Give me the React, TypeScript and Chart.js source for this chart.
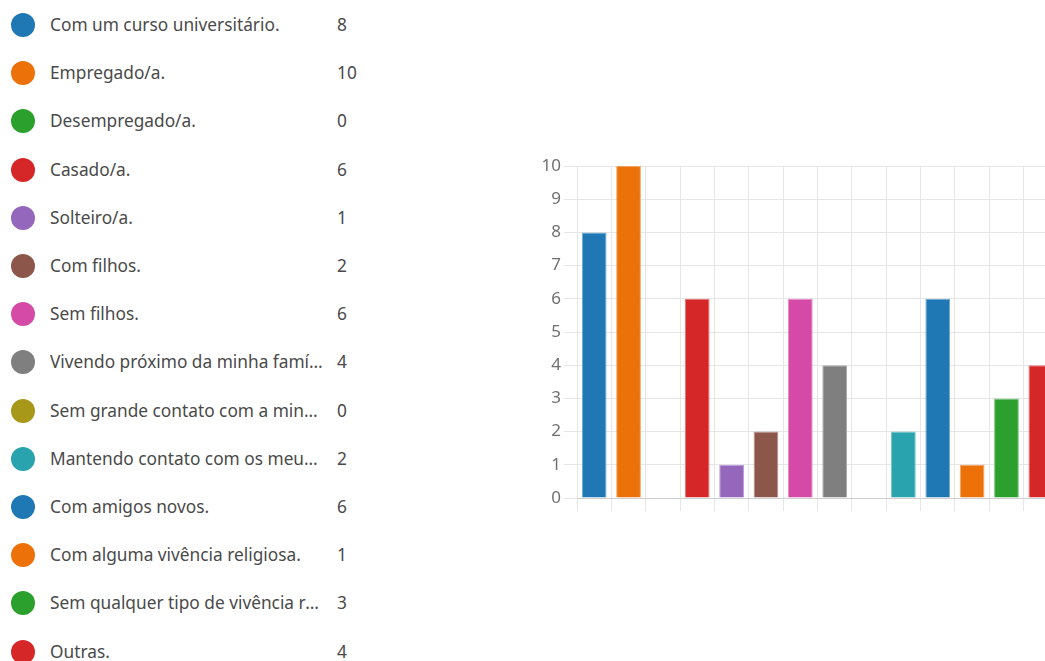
import React, { useEffect, useRef } from "react";
import { Chart, registerables } from "chart.js";

Chart.register(...registerables);

const categories = [
  "Com um curso universitário.",
  "Empregado/a.",
  "Desempregado/a.",
  "Casado/a.",
  "Solteiro/a.",
  "Com filhos.",
  "Sem filhos.",
  "Vivendo próximo da minha família.",
  "Sem grande contato com a minha família.",
  "Mantendo contato com os meus amigos antigos.",
  "Com amigos novos.",
  "Com alguma vivência religiosa.",
  "Sem qualquer tipo de vivência religiosa.",
  "Outras.",
];

const counts = [8, 10, 0, 6, 1, 2, 6, 4, 0, 2, 6, 1, 3, 4];

const colors = [
  "#1f77b4",
  "#eb7108",
  "#2ca02c",
  "#d62728",
  "#9467bd",
  "#8c564b",
  "#d44aa6",
  "#7f7f7f",
  "#a8981a",
  "#29a3ae",
  "#1f77b4",
  "#eb7108",
  "#2ca02c",
  "#d62728",
];

const yTicks = [0, 1, 2, 3, 4, 5, 6, 7, 8, 9, 10];

function lighten(hex: string, amt: number): string {
  const n = parseInt(hex.slice(1), 16);
  const r = (n >> 16) & 255;
  const g = (n >> 8) & 255;
  const b = n & 255;
  const f = (c: number) => Math.round(c + (255 - c) * amt);
  return `rgb(${f(r)},${f(g)},${f(b)})`;
}

const FONT = "'Noto Sans', 'Open Sans', sans-serif";

function BarChart() {
  const ref = useRef<HTMLCanvasElement | null>(null);
  useEffect(() => {
    if (!ref.current) return;
    const chart = new Chart(ref.current, {
      type: "bar",
      data: {
        labels: categories,
        datasets: [
          {
            data: counts,
            backgroundColor: colors,
            borderColor: colors.map((c) => lighten(c, 0.35)),
            borderWidth: 1,
            barPercentage: 0.9,
            categoryPercentage: 0.8,
          },
        ],
      },
      options: {
        responsive: false,
        animation: false,
        maintainAspectRatio: false,
        layout: { padding: { top: 16, right: 7, bottom: 9, left: 0 } },
        plugins: { legend: { display: false }, tooltip: { enabled: false } },
        scales: {
          x: {
            type: "category",
            grid: {
              offset: true,
              color: "#e6e6e6",
              tickLength: 13,
              lineWidth: 1,
            },
            border: { color: "#cfcfcf", width: 1 },
            ticks: { display: false },
          },
          y: {
            min: yTicks[0],
            max: yTicks[yTicks.length - 1],
            afterBuildTicks: (scale: any) => {
              scale.ticks = yTicks.map((v) => ({ value: v }));
            },
            afterFit: (scale: any) => {
              scale.width = 57;
            },
            grid: { color: "#e6e6e6", tickLength: 13 },
            border: { color: "#e6e6e6" },
            ticks: {
              color: "#707070",
              padding: 3,
              font: { family: FONT, size: 17 },
            },
          },
        },
      },
    });
    return () => chart.destroy();
  }, []);
  return (
    <canvas
      ref={ref}
      width={545}
      height={370}
      style={{ position: "absolute", left: 520, top: 150, width: 545, height: 370 }}
    />
  );
}

export default function App() {
  useEffect(() => {
    document.body.style.margin = "0";
  }, []);
  return (
    <div
      style={{
        position: "relative",
        width: 1045,
        height: 661,
        overflow: "hidden",
        background: "#fff",
        fontFamily: FONT,
      }}
    >
      {categories.map((c, i) => (
        <div
          key={i}
          style={{
            position: "absolute",
            left: 0,
            top: 25 + i * 48.2 - 12,
            height: 24,
            width: 380,
          }}
        >
          <div
            style={{
              position: "absolute",
              left: 11,
              top: 0,
              width: 24,
              height: 24,
              borderRadius: "50%",
              background: colors[i],
            }}
          />
          <div
            style={{
              position: "absolute",
              left: 50,
              top: 0,
              width: 274,
              lineHeight: "24px",
              fontSize: 17.3,
              color: "#4a4a4a",
              whiteSpace: "nowrap",
              overflow: "hidden",
              textOverflow: "ellipsis",
            }}
          >
            {c}
          </div>
          <div
            style={{
              position: "absolute",
              left: 337,
              top: 0,
              lineHeight: "24px",
              fontSize: 17.3,
              color: "#4a4a4a",
            }}
          >
            {counts[i]}
          </div>
        </div>
      ))}
      <BarChart />
    </div>
  );
}
